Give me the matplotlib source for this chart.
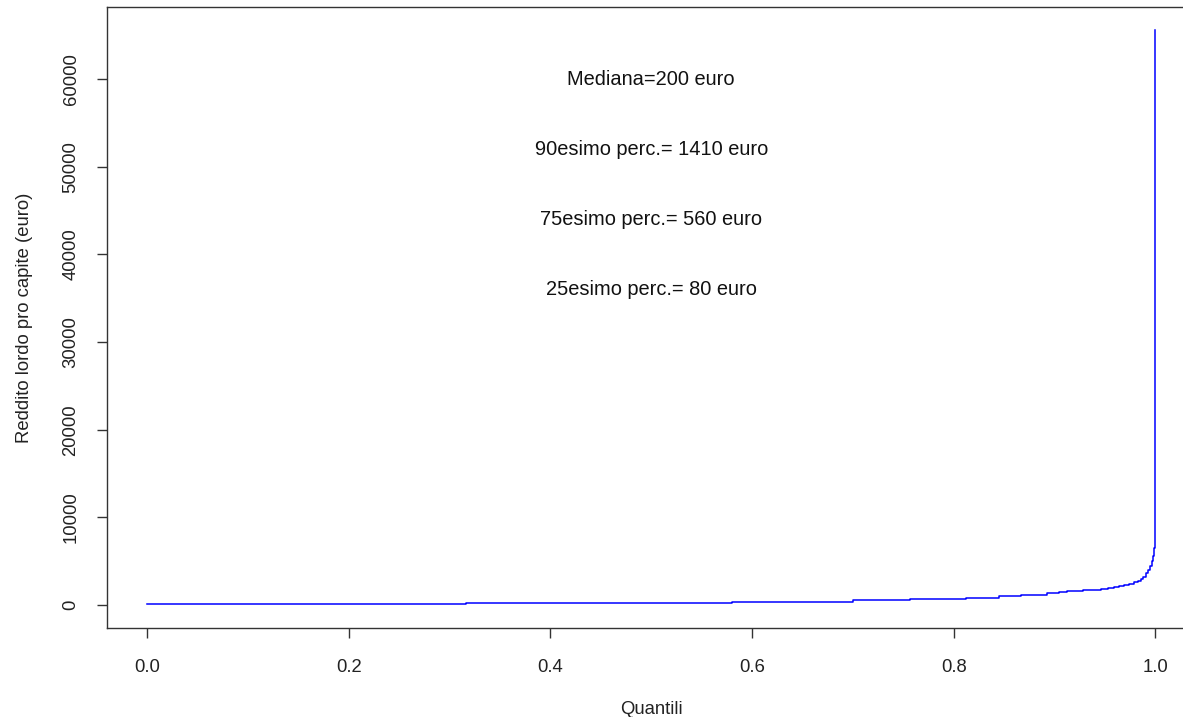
import matplotlib
matplotlib.use('Agg')
import matplotlib.pyplot as plt

plt.rcParams['font.family'] = ['Liberation Sans', 'DejaVu Sans']

# quantile breakpoints and income (euro)
quantili = [0, 0.316, 0.58, 0.70, 0.757, 0.812, 0.845, 0.867, 0.893, 0.905,
            0.912, 0.918, 0.928, 0.938, 0.946, 0.953, 0.959, 0.964, 0.969,
            0.974, 0.979, 0.983, 0.986, 0.988, 0.991, 0.993, 0.995, 0.9965,
            0.998, 0.999, 0.9993, 0.9996, 1.0]
reddito = [80, 200, 400, 560, 700, 850, 1000, 1200, 1410, 1500,
           1550, 1600, 1680, 1750, 1850, 1950, 2050, 2150, 2300,
           2450, 2570, 2700, 2950, 3250, 3600, 4000, 4450, 4970,
           5600, 6500, 7700, 11270, 65600]

# annotations
note = ["Mediana=200 euro", "90esimo perc.= 1410 euro",
        "75esimo perc.= 560 euro", "25esimo perc.= 80 euro"]
note_y = [60000, 52000, 44000, 36000]

fig = plt.figure(figsize=(11.83, 7.17), dpi=100)
ax = fig.add_axes([0.0904, 0.1241, 0.9202, 0.8661])

ax.plot(quantili, reddito, color='#0000FF', linewidth=1.1, drawstyle='steps-post')

for t, y in zip(note, note_y):
    ax.text(0.5, y, t, ha='center', va='center', fontsize=14.4, color='#111111')

ax.set_xlim(-0.04, 1.04)
ax.set_ylim(-2624, 68224)
ax.set_xticks([0.0, 0.2, 0.4, 0.6, 0.8, 1.0])
ax.set_xticklabels(['0.0', '0.2', '0.4', '0.6', '0.8', '1.0'])
ax.set_yticks(range(0, 60001, 10000))
ax.set_yticklabels([str(v) for v in range(0, 60001, 10000)], rotation=90, va='center')

ax.tick_params(axis='both', length=7, width=1, color='#333333',
               labelsize=13.3, labelcolor='#222222')
ax.tick_params(axis='x', pad=15)
ax.tick_params(axis='y', pad=12.7)

for s in ax.spines.values():
    s.set_color('#333333')
    s.set_linewidth(1)

ax.set_xlabel('Quantili', fontsize=13.3, color='#222222')
ax.set_ylabel('Reddito lordo pro capite (euro)', fontsize=13.3, color='#222222')
ax.xaxis.set_label_coords((651 - 107) / 1088.6, (628 - 701) / 621)
ax.yaxis.set_label_coords((33 - 107) / 1088.6, (628 - 318) / 621)

fig.savefig('out.png', dpi=100)
